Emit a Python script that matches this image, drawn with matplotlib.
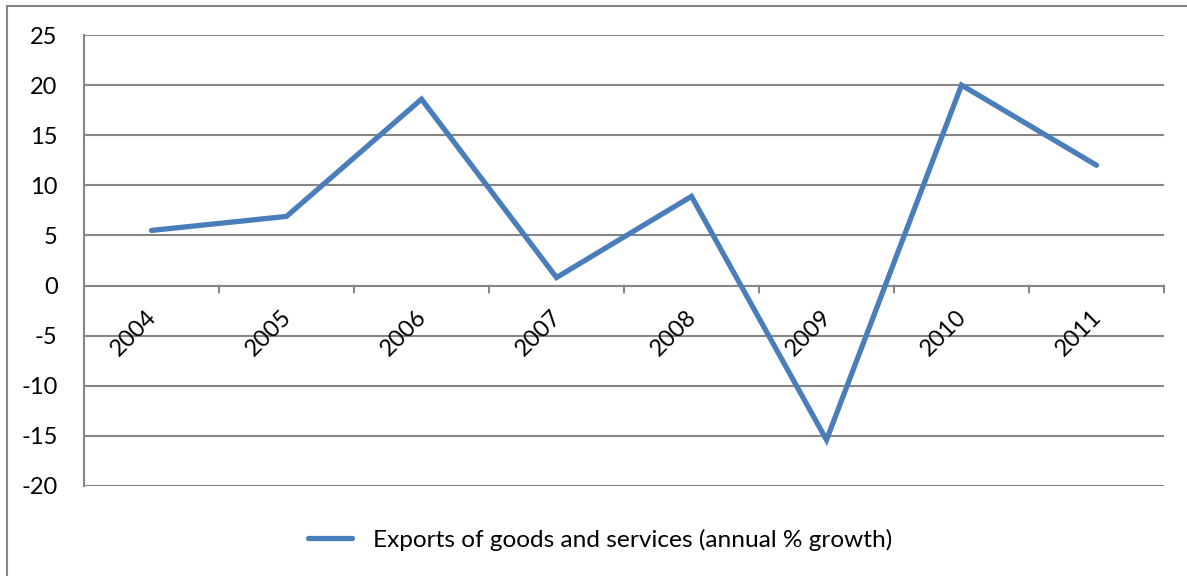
import matplotlib
matplotlib.use("Agg")
import matplotlib.pyplot as plt
from matplotlib.patches import Rectangle
from matplotlib.lines import Line2D

years = ["2004", "2005", "2006", "2007", "2008", "2009", "2010", "2011"]
growth = [5.5, 6.9, 18.6, 0.8, 8.9, -15.4, 20.0, 12.0]
yticks = [-20, -15, -10, -5, 0, 5, 10, 15, 20, 25]
series_label = "Exports of goods and services (annual % growth)"

plt.rcParams['font.family'] = ['Lato', 'DejaVu Sans']
FS = 17

W, H = 1187, 576
fig = plt.figure(figsize=(W / 100, H / 100), dpi=100)
fig.patch.set_facecolor('white')

# outer chart border
fig.add_artist(Rectangle((7 / W, -0.1), 1.2, (576 - 6) / H + 0.1, transform=fig.transFigure,
                         fill=False, edgecolor='#868686', linewidth=1.5))

ax = fig.add_axes([84 / W, (576 - 486) / H, 1080 / W, 451 / H])
grid_c = '#868686'
x = list(range(len(years)))
ax.plot(x, growth, color='#4A7EBB', linewidth=3.8, solid_capstyle='round', solid_joinstyle='miter',
        zorder=3)
ax.set_xlim(-0.5, len(years) - 0.5)
ax.set_ylim(-20, 25)
ax.set_yticks(yticks)
ax.set_yticklabels([str(v) for v in yticks], fontsize=FS)
ax.tick_params(axis='y', length=0, pad=19)
for v in yticks:
    ax.axhline(v, color=grid_c, linewidth=1.5, zorder=1)

for s in ['top', 'right', 'bottom']:
    ax.spines[s].set_visible(False)
ax.spines['left'].set_color(grid_c)
ax.spines['left'].set_linewidth(1.5)

ax.set_xticks([])
# category boundary ticks at y=0
for k in range(1, len(years) + 1):
    ax.annotate('', xy=(k - 0.5, 0), xytext=(0, -5), textcoords='offset points', xycoords='data',
                arrowprops=dict(arrowstyle='-', color=grid_c, linewidth=1.5, shrinkA=0, shrinkB=0))
for k, yr in enumerate(years):
    ax.annotate(yr, xy=(k, 0), xytext=(-4, -15), textcoords='offset points', fontsize=FS,
                rotation=45, ha='right', va='top', rotation_mode='anchor')

handle = Line2D([], [], color='#4A7EBB', linewidth=3.8, solid_capstyle='round')
fig.legend([handle], [series_label], loc='center', bbox_to_anchor=(600 / W, 1 - 540 / H),
           frameon=False, fontsize=17.6, handlelength=1.8, handletextpad=0.85)

fig.savefig('out.png', dpi=100)
